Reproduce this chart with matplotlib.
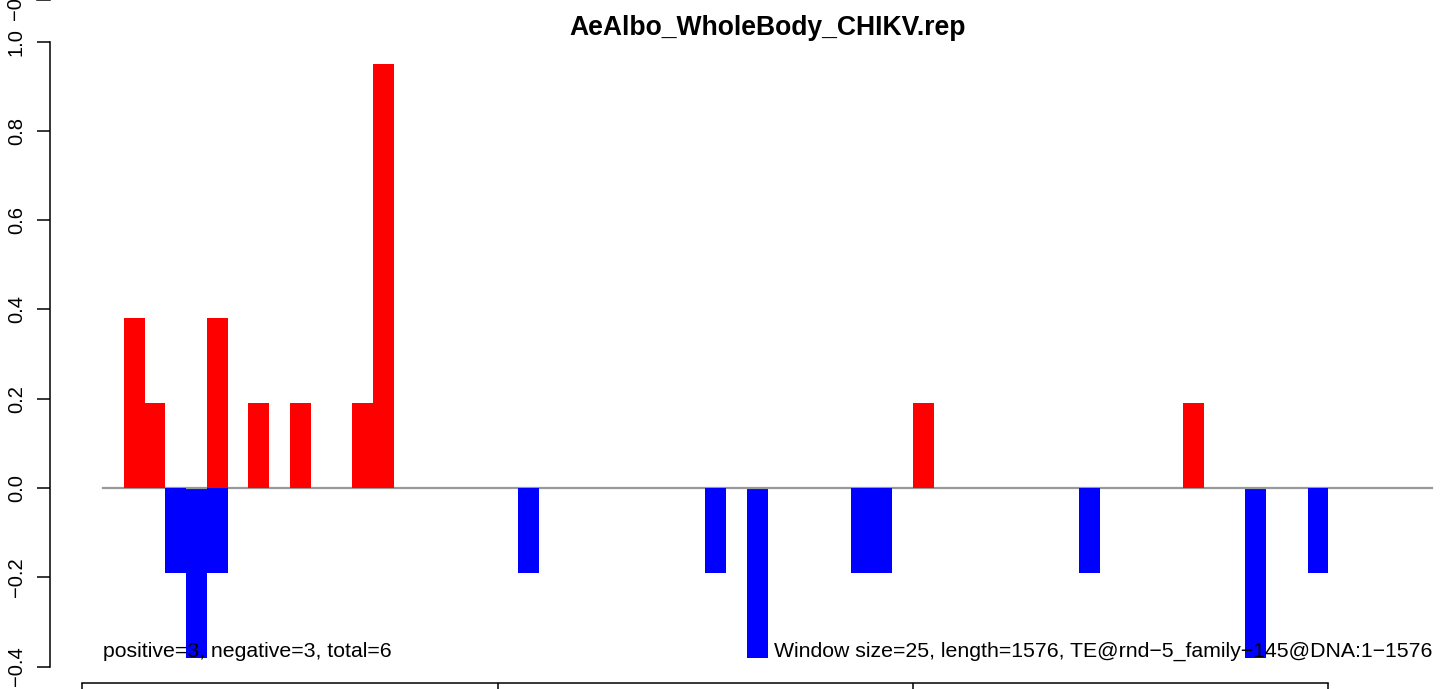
import matplotlib
matplotlib.use("Agg")
import matplotlib.pyplot as plt
from matplotlib.lines import Line2D

plt.rcParams["font.family"] = ["Liberation Sans", "DejaVu Sans"]

# window index (1-based) and score of each non-empty window
pos_windows = [2, 3, 6, 8, 10, 13, 14, 40, 53]
pos_values = [0.38, 0.19, 0.38, 0.19, 0.19, 0.19, 0.95, 0.19, 0.19]
neg_windows = [4, 5, 6, 21, 30, 32, 37, 38, 48, 56, 59]
neg_values = [-0.19, -0.38, -0.19, -0.19, -0.19, -0.38, -0.19, -0.19, -0.19, -0.38, -0.19]
n_windows = 64

title = "AeAlbo_WholeBody_CHIKV.rep"
left_note = "positive=3, negative=3, total=6"
right_note = "Window size=25, length=1576, TE@rnd\u22125_family\u2212145@DNA:1\u22121576"
yticks = [-0.4, -0.2, 0.0, 0.2, 0.4, 0.6, 0.8, 1.0]
xticks = [0, 20, 40, 60]

W, H = 1444, 689
fig = plt.figure(figsize=(W / 100, H / 100), dpi=100)
ax = fig.add_axes([50 / W, 6 / H, (W - 50) / W, (683 - 10) / H])

# bars deeper than one step sit under the baseline, the rest over it
deep = [(w, v) for w, v in zip(neg_windows, neg_values) if v < -0.3]
shallow = [(w, v) for w, v in zip(neg_windows, neg_values) if v >= -0.3]
ax.bar([w for w, _ in deep], [v for _, v in deep], width=1, align="edge",
       color="#0000ff", zorder=1)
ax.plot([1, n_windows + 1], [0, 0], color="#999999", lw=1.6, zorder=2)
ax.bar([w for w, _ in shallow], [v for _, v in shallow], width=1, align="edge",
       color="#0000ff", zorder=3)
ax.bar(pos_windows, pos_values, width=1, align="edge", color="#ff0000", zorder=3)

ax.set_xlim(-1.552, 65.565)
ax.set_ylim(-0.4368, 1.0708)

for s in ["top", "right"]:
    ax.spines[s].set_visible(False)
ax.spines["left"].set_bounds(-0.4, 1.0)
ax.spines["bottom"].set_bounds(0, 60)
for s in ["left", "bottom"]:
    ax.spines[s].set_linewidth(1.1)

ax.set_yticks(yticks)
ax.set_yticklabels([f"{t:.1f}".replace("-", "\u2212") for t in yticks],
                   rotation=90, va="center", fontsize=14.5)
# x tick labels fall below the cropped edge of the image
ax.set_xticks(xticks)
ax.set_xticklabels([])
ax.tick_params(axis="both", length=9.4, width=1.1, pad=8)

ax.text(1, -0.367, left_note, ha="left", va="center", fontsize=15.3, zorder=5)
ax.text(n_windows + 1, -0.367, right_note, ha="right", va="center", fontsize=15.3, zorder=5)

fig.text(768 / W, 1 - 28 / H, title, ha="center", va="center",
         fontsize=19.1, fontweight="bold")

# label and tick of the panel above, cut by the image edge
fig.text(15 / W, 1 - 20 / H, "\u22120.4", rotation=90, ha="center", va="bottom",
         fontsize=14.5)
fig.add_artist(Line2D([37 / W, 50 / W], [1, 1], color="black", lw=1.1,
                      transform=fig.transFigure))

fig.savefig("out.png", dpi=100)
